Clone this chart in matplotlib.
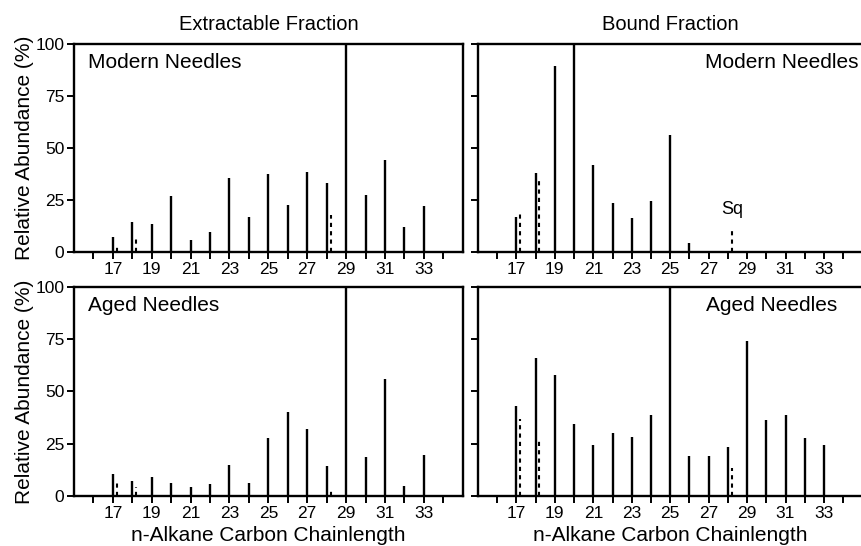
import numpy as np
import matplotlib.pyplot as plt

plt.rcParams['font.family'] = ['Liberation Sans', 'DejaVu Sans']

# carbon numbers of the n-alkanes
carbons = [17, 18, 19, 20, 21, 22, 23, 24, 25, 26, 27, 28, 29, 30, 31, 32, 33]

# relative abundance (%) of the solid bars
ext_modern = [7.2, 14.4, 13.6, 26.8, 5.6, 9.4, 35.6, 17, 37.5, 22.6, 38.3, 33.2, 100, 27.3, 44.3, 12.1, 22]
bnd_modern = [16.7, 37.8, 89.6, 100, 41.8, 23.6, 16.1, 24.7, 56.1, 4.3, 0, 0, 0, 0, 0, 0, 0]
ext_aged = [10.5, 7.3, 8.9, 6.3, 4.4, 5.6, 14.8, 6.0, 27.6, 40, 32, 14.4, 100, 18.7, 56, 4.8, 19.4]
bnd_aged = [43.1, 65.8, 57.7, 34.2, 24.4, 30.2, 28.1, 38.5, 100, 19.2, 19.2, 23.6, 74.1, 36.3, 38.5, 27.5, 24.6]

# dashed companion peaks (branched / squalene), drawn just right of the carbon number
dash_pos = [17.2, 18.2, 28.2]
ext_modern_d = [2.7, 6.9, 18]
bnd_modern_d = [18.2, 34.6, 12]
ext_aged_d = [7.6, 4.1, 4]
bnd_aged_d = [36.9, 26.8, 13.4]

col_titles = ['Extractable Fraction', 'Bound Fraction']
row_titles = ['Modern Needles', 'Aged Needles']

fig = plt.figure(figsize=(8.62, 5.46), dpi=100)
pos = [[0.0858, 0.5385, 0.451, 0.381], [0.5545, 0.5385, 0.446, 0.381],
       [0.0858, 0.0916, 0.451, 0.383], [0.5545, 0.0916, 0.446, 0.383]]
solid = [ext_modern, bnd_modern, ext_aged, bnd_aged]
dashed = [ext_modern_d, bnd_modern_d, ext_aged_d, bnd_aged_d]

for i in range(4):
    ax = fig.add_axes(pos[i])
    vals = np.array(solid[i])
    keep = vals > 0
    ax.vlines(np.array(carbons)[keep], 0, vals[keep], color='black', lw=1.7)
    ax.vlines(dash_pos, 0, dashed[i], color='black', lw=1.5, linestyles=(0, (2, 2)))
    ax.set_xlim(15, 35)
    ax.set_ylim(0, 100)
    ax.set_xticks(range(16, 35))
    ax.set_xticklabels([str(c) if c % 2 == 1 and c <= 33 else '' for c in range(16, 35)])
    ax.set_yticks([0, 25, 50, 75, 100])
    ax.tick_params(direction='out', length=5, width=1.4, labelsize=12.5, pad=2)
    for s in ax.spines.values():
        s.set_linewidth(1.7)
    if i % 2 == 0:
        ax.set_ylabel('Relative Abundance (%)', fontsize=15, labelpad=1)
        ax.text(0.035, 0.955, row_titles[i // 2], transform=ax.transAxes,
                fontsize=15, ha='left', va='top')
    else:
        ax.set_yticklabels([])
        xr = 0.99 if i == 1 else 0.935
        ax.text(xr, 0.955, row_titles[i // 2], transform=ax.transAxes,
                fontsize=15, ha='right', va='top')
    if i < 2:
        ax.set_title(col_titles[i], fontsize=14.5, pad=10)
    else:
        ax.set_xlabel('n-Alkane Carbon Chainlength', fontsize=15, labelpad=3.5)
    if i == 1:
        ax.text(28.2, 16.5, 'Sq', fontsize=13, ha='center', va='bottom')

plt.savefig('out.png', dpi=100)
